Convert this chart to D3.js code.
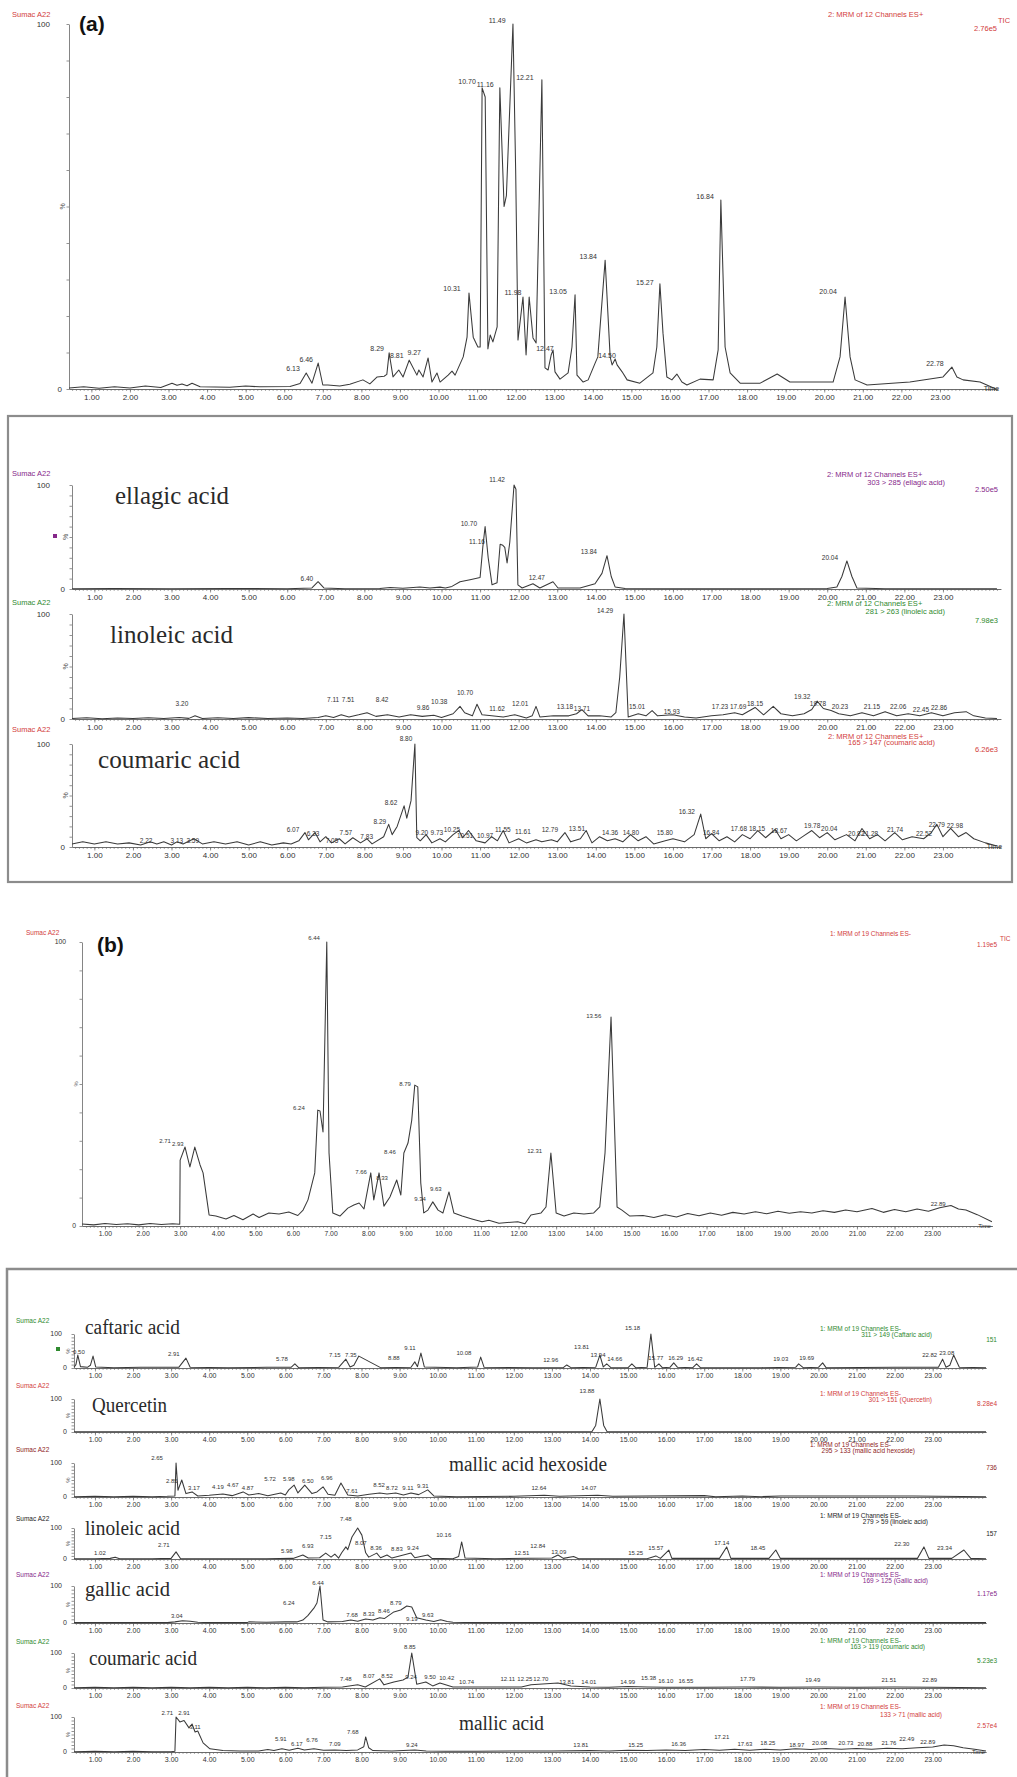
<!DOCTYPE html>
<html>
<head>
<meta charset="utf-8">
<script src="https://cdn.jsdelivr.net/npm/d3@7"></script>
<style>
  body { margin: 0; background: #fff; }
  svg { display: block; font-family: "Liberation Sans", Arial, sans-serif; }
</style>
</head>
<body>
<div id="chart"></div>
<script>
// ---- shared axis values ----
var timeTicks = d3.range(1, 24);
var pctTicks = d3.range(0, 101, 10);

// ---- (a) TIC, 2: MRM of 12 Channels ES+  [time, %] ----
var ticA = [[0.42,0.3],[0.8,0.6],[1.2,0.2],[1.6,0.6],[2.0,0.3],[2.4,0.8],[2.8,0.4],[3.09,1.6],[3.22,1.0],[3.35,1.4],[3.48,0.9],[3.61,1.6],[3.82,0.6],[4.59,0.5],[5.0,0.8],[5.37,0.6],[6.15,0.7],[6.41,1.5],[6.57,4.4],[6.72,1.6],[6.88,7.1],[7.0,1.1],[7.13,1.1],[7.44,0.8],[7.7,1.3],[8.04,2.5],[8.22,1.4],[8.41,3.3],[8.59,3.5],[8.66,4.0],[8.72,9.9],[8.82,3.3],[8.97,5.2],[9.08,3.3],[9.24,7.9],[9.44,3.8],[9.49,5.2],[9.60,3.3],[9.73,8.5],[9.83,1.9],[9.96,4.4],[10.04,1.9],[10.25,3.8],[10.35,4.9],[10.43,3.8],[10.64,8.8],[10.74,14.2],[10.79,26.3],[10.90,14.2],[11.02,11.5],[11.08,11.5],[11.13,82.5],[11.21,80],[11.28,11.0],[11.34,14.8],[11.41,12.9],[11.52,17.0],[11.59,82.5],[11.70,50],[11.76,53],[11.93,100],[12.00,60],[12.06,13.4],[12.19,25.2],[12.27,9.3],[12.35,25.2],[12.45,14.0],[12.53,12.6],[12.68,84.7],[12.76,5.8],[12.84,5.2],[12.92,9.3],[12.97,10.7],[13.02,4.7],[13.15,2.7],[13.36,4.4],[13.46,11.5],[13.54,25.8],[13.59,3.8],[13.75,1.9],[13.88,2.5],[14.06,7.1],[14.13,8.8],[14.32,35.3],[14.45,8.8],[14.50,6.6],[14.58,8.2],[14.63,6.6],[14.76,4.7],[14.89,2.5],[15.22,1.6],[15.56,4.4],[15.66,11.5],[15.74,28.8],[15.82,15.3],[15.92,3.3],[16.05,2.5],[16.18,4.1],[16.31,1.9],[16.44,1.1],[16.78,2.7],[17.12,2.5],[17.25,10.7],[17.32,51.8],[17.43,11.5],[17.56,4.4],[17.82,1.6],[18.34,1.6],[18.78,4.1],[19.11,1.9],[20.23,1.9],[20.41,8.8],[20.54,25.2],[20.67,8.8],[20.80,2.5],[21.11,1.1],[22.22,1.9],[23.08,3.3],[23.31,6.0],[23.44,3.3],[23.60,2.5],[24.04,1.9],[24.45,0]];
var ticALabels = [["6.13",6.23,5.5],["6.46",6.57,8.2],["8.29",8.41,11.2],["8.81",8.92,9.3],["9.27",9.37,9.9],["10.31",10.35,27.4],["10.70",10.74,84.1],["11.16",11.21,83.3],["11.49",11.52,101],["12.21",12.24,85.2],["11.98",11.93,26.3],["12.47",12.76,11.2],["13.05",13.10,26.8],["13.84",13.88,36.2],["14.50",14.37,9.3],["15.27",15.35,29.3],["16.84",16.91,52.6],["20.04",20.10,26.6],["22.78",22.87,7.1]];

// ---- (a) ellagic acid ----
var ellagicA = [[0.42,0.3],[1.5,0.5],[3,0.3],[4.5,0.5],[6.0,0.3],[6.64,1],[6.80,7],[6.95,1],[7.5,0.3],[8.4,0.5],[8.67,1.5],[9.0,0.8],[9.44,2],[9.7,1],[9.96,1.8],[10.1,1],[10.27,2.5],[10.48,7],[10.74,9],[11.00,11],[11.07,40],[11.13,60],[11.21,30],[11.31,4],[11.44,6],[11.52,43],[11.59,42],[11.64,40],[11.70,25],[11.77,45],[11.88,100],[11.93,96],[11.98,4],[12.09,1],[12.37,5],[12.55,1],[12.89,7],[13.02,1],[13.59,1],[13.98,5],[14.16,15],[14.29,32],[14.40,12],[14.50,2],[14.76,0.5],[16,0.3],[18,0.3],[20.0,0.5],[20.25,2],[20.38,12],[20.51,27],[20.64,12],[20.77,1],[21.5,0.3],[24.4,0.2]];
var ellagicALabels = [["6.40",6.51,9.6],["10.70",10.71,62.5],["11.16",10.92,45],["11.42",11.44,105],["12.47",12.47,10.6],["13.84",13.82,35.6],["20.04",20.07,30]];

// ---- (a) linoleic acid ----
var linoleicA = [[0.42,0.5],[0.8,1.2],[1.2,0.3],[1.6,1],[2.0,0.4],[2.4,1.2],[2.8,0.5],[3.2,1.5],[3.45,0.6],[3.61,3],[3.8,0.5],[4.2,1.2],[4.6,0.4],[5.0,1.3],[5.5,0.5],[6.0,1],[6.4,0.5],[6.8,1.5],[7.0,3],[7.2,1.5],[7.4,4],[7.6,2],[7.85,4],[8.07,6],[8.3,2.5],[8.6,4],[8.9,2],[9.2,4],[9.5,2.5],[9.8,3.5],[10.0,1.5],[10.3,5],[10.48,12],[10.6,6],[10.8,3],[10.92,14],[11.05,4],[11.3,3],[11.6,2],[11.9,4],[12.2,1],[12.35,3],[12.45,12],[12.55,2],[12.9,3],[13.3,3],[13.5,5],[13.64,9],[13.8,3],[14.1,3],[14.4,2],[14.52,6],[14.62,40],[14.73,100],[14.84,2],[15.1,5],[15.3,3],[15.46,8],[15.6,3],[16.0,4],[16.3,2],[16.6,1],[17.0,3],[17.3,4],[17.6,6],[17.8,4],[18.13,11],[18.35,4],[18.6,12],[18.8,5],[19.1,3],[19.4,5],[19.6,9],[19.74,17],[19.9,10],[20.1,8],[20.3,5],[20.6,3],[20.9,6],[21.2,3],[21.5,7],[21.8,3],[22.1,5],[22.4,3],[22.7,6],[23.0,3],[23.3,6],[23.6,7],[23.8,3],[24.1,1],[24.4,0.5]];
var linoleicALabels = [["3.20",3.27,15],["7.11",7.19,18],["7.51",7.58,18],["8.42",8.46,18],["9.86",9.52,11],["10.38",9.94,16],["10.70",10.61,25],["11.62",11.44,10],["12.01",12.04,15],["13.18",13.20,11.4],["13.71",13.64,9.5],["14.29",14.24,103],["15.01",15.07,11.4],["15.93",15.97,6.7],["17.23",17.22,11.4],["17.69",17.69,11.4],["18.15",18.13,15],["19.32",19.35,21],["19.78",19.76,15],["20.23",20.33,11.4],["21.15",21.16,11.4],["22.06",21.84,12],["22.45",22.43,8.6],["22.86",22.90,10.5]];

// ---- (a) coumaric acid ----
var coumaricA = [[0.42,3],[0.7,5],[1.0,3],[1.3,5],[1.6,3],[1.9,4],[2.2,2],[2.45,5],[2.62,3],[2.8,5],[3.0,2],[3.14,5],[3.3,3],[3.58,8],[3.8,3],[4.1,5],[4.4,3],[4.7,5],[5.0,2],[5.3,5],[5.6,2],[5.9,4],[6.1,3],[6.3,6],[6.46,14],[6.55,7],[6.72,14],[6.85,5],[7.0,10],[7.15,4],[7.35,8],[7.5,3],[7.7,9],[7.9,4],[8.07,8],[8.2,3],[8.5,10],[8.63,22],[8.72,12],[8.85,20],[9.03,40],[9.10,28],[9.21,45],[9.31,100],[9.36,9],[9.45,6],[9.6,12],[9.75,4],[9.96,8],[10.1,5],[10.3,12],[10.45,16],[10.55,9],[10.7,16],[10.9,6],[11.13,4],[11.3,10],[11.45,6],[11.6,16],[11.75,4],[12.0,8],[12.2,4],[12.45,7],[12.6,5],[12.85,7],[13.0,5],[13.2,14],[13.35,5],[13.6,8],[13.75,16],[13.9,4],[14.1,10],[14.3,6],[14.5,8],[14.7,5],[14.9,12],[15.1,6],[15.3,10],[15.5,3],[15.8,6],[16.0,8],[16.3,5],[16.55,12],[16.72,32],[16.85,8],[17.0,13],[17.2,6],[17.4,10],[17.6,5],[17.8,12],[18.0,8],[18.2,16],[18.4,9],[18.65,17],[18.8,8],[19.0,12],[19.2,6],[19.4,11],[19.6,16],[19.8,9],[20.0,14],[20.2,7],[20.5,12],[20.72,6],[20.9,18],[21.1,8],[21.3,12],[21.5,6],[21.75,14],[21.95,7],[22.2,10],[22.5,8],[22.7,14],[22.84,22],[23.0,10],[23.2,18],[23.4,10],[23.6,14],[23.8,8],[24.1,4],[24.4,1]];
var coumaricALabels = [["2.22",2.34,6],["3.13",3.14,6],["3.59",3.55,6],["6.07",6.15,17],["6.33",6.67,13],["7.05",7.16,6],["7.57",7.52,14],["7.83",8.06,10],["8.29",8.40,25],["8.62",8.69,43],["8.80",9.08,105],["9.20",9.49,14],["9.73",9.88,14],["10.25",10.27,17],["10.51",10.61,11],["10.97",11.13,11],["11.55",11.59,17],["11.61",12.11,15],["12.79",12.81,17],["13.51",13.51,18],["14.36",14.37,14],["14.80",14.91,14],["15.80",15.79,14],["16.32",16.36,34],["16.84",16.99,14],["17.68",17.71,18],["18.15",18.18,18],["18.67",18.75,16],["19.78",19.61,21],["20.04",20.05,18],["20.82",20.75,13],["21.28",21.11,13],["21.74",21.76,17],["22.52",22.51,13],["22.79",22.84,22],["22.98",23.31,21]];

// ---- (b) TIC, 1: MRM of 19 Channels ES- ----
var ticB = [[0.39,0.7],[0.7,0.4],[1.0,0.9],[1.3,0.5],[1.6,0.8],[1.9,0.4],[2.2,0.9],[2.5,0.5],[2.8,0.8],[2.99,0.6],[3.0,23.2],[3.13,27.8],[3.26,20.8],[3.39,27.8],[3.53,21.5],[3.61,18.7],[3.77,3.9],[3.95,3.5],[4.22,2.5],[4.43,3.7],[4.67,2.2],[4.94,4.2],[5.10,3.0],[5.36,4.6],[5.63,4.2],[5.89,4.9],[6.13,3.7],[6.27,5.6],[6.40,9.2],[6.58,18.7],[6.66,40.8],[6.72,40.5],[6.80,33.1],[6.90,100],[6.96,25.7],[7.06,4.6],[7.25,3.5],[7.46,6.3],[7.62,7.4],[7.76,8.1],[7.89,6.0],[8.07,18.7],[8.15,9.2],[8.29,18.7],[8.42,7.0],[8.58,10.2],[8.76,16.2],[8.87,10.9],[8.95,25.7],[9.06,29.2],[9.16,37.3],[9.24,49.6],[9.32,49.0],[9.40,15.1],[9.48,4.6],[9.59,5.6],[9.72,8.5],[9.86,5.6],[9.99,4.6],[10.15,12.0],[10.28,4.6],[10.50,3.5],[10.76,2.5],[11.03,1.5],[11.21,2.0],[11.48,1.0],[11.98,1.5],[12.17,0.8],[12.33,3.9],[12.60,4.6],[12.73,6.7],[12.86,25.7],[13.00,4.6],[13.21,3.5],[13.47,4.6],[13.74,4.2],[14.00,4.6],[14.16,6.7],[14.30,25.7],[14.46,73.6],[14.62,6.7],[14.75,5.6],[14.96,3.5],[15.31,3.7],[15.6,3.0],[15.9,4.0],[16.2,3.2],[16.5,4.4],[16.8,3.6],[17.1,4.6],[17.4,3.8],[17.7,4.8],[18.0,4.2],[18.3,5.0],[18.6,4.3],[18.9,5.2],[19.2,4.5],[19.5,5.0],[19.8,4.6],[20.1,5.4],[20.4,4.8],[20.7,5.6],[21.0,5.0],[21.4,6.2],[21.7,4.8],[22.0,5.8],[22.3,5.0],[22.6,6.0],[22.9,5.2],[23.2,6.4],[23.5,7.2],[23.7,6.0],[23.9,5.6],[24.2,4.0],[24.59,1.5]];
var ticBLabels = [["2.71",2.60,30],["2.93",2.94,29],["6.24",6.16,41.5],["6.44",6.56,101.5],["7.66",7.81,19],["8.33",8.37,17],["8.46",8.58,26],["8.79",8.98,50],["9.34",9.38,9.5],["9.63",9.80,13],["12.31",12.43,26.4],["13.56",14.00,74],["22.89",23.16,7.7]];

// ---- (b) MRM channels ----
var caftaricB = [[0.45,2],[0.50,10],[0.55,38],[0.62,4],[0.8,2],[0.88,8],[0.95,35],[1.02,3],[1.5,1],[2.2,2],[3.2,2],[3.39,29],[3.5,2],[4.5,1],[5.5,2],[6.15,2],[6.25,12],[6.35,1],[7.4,2],[7.59,26],[7.7,3],[7.8,8],[7.93,35],[8.5,1],[9.3,2],[9.40,18],[9.47,4],[9.56,44],[9.65,3],[10.5,1],[11.05,3],[11.13,32],[11.22,2],[12.5,1],[13.3,1],[13.39,9],[13.5,1],[14.15,2],[14.26,38],[14.35,3],[14.44,12],[14.55,1],[15.0,1],[15.10,12],[15.2,1],[15.5,2],[15.60,100],[15.7,2],[15.81,12],[15.9,1],[16.1,2],[16.20,15],[16.3,2],[16.7,1],[16.80,12],[16.9,1],[18.5,1],[19.4,2],[19.48,12],[19.6,1],[20.0,2],[20.11,15],[20.2,1],[22.0,2],[23.15,2],[23.26,26],[23.35,2],[23.45,8],[23.55,38],[23.7,2],[24.4,1]];
var caftaricBLabels = [["0.50",0.58,47],["2.91",3.07,41],["5.78",5.91,26],["7.15",7.30,38],["7.35",7.72,38],["8.88",8.85,29],["9.11",9.27,59],["10.08",10.69,44],["12.96",12.97,24],["13.81",13.78,62],["13.94",14.21,38],["14.66",14.65,26],["15.18",15.12,118],["15.77",15.73,29],["16.29",16.25,29],["16.42",16.76,26],["19.03",19.01,26],["19.69",19.69,29],["22.82",22.92,38],["23.08",23.37,44]];

var quercetinB = [[0.45,0.5],[3,1],[6,0.5],[9,1],[12,0.5],[13.5,1],[14.05,1],[14.15,20],[14.26,100],[14.36,20],[14.45,1],[16,0.5],[19,1],[22,0.5],[24.4,0.5]];
var quercetinBLabels = [["13.88",13.92,124]];

var hexosideB = [[0.45,1],[1.0,2],[1.5,1],[2.0,2],[2.5,1],[2.9,2],[3.10,3],[3.13,100],[3.18,20],[3.28,50],[3.39,10],[3.55,15],[3.7,3],[4.0,5],[4.36,9],[4.6,4],[4.89,15],[5.04,6],[5.3,10],[5.54,4],[5.88,12],[6.0,6],[6.09,21],[6.23,35],[6.33,12],[6.51,35],[6.70,10],[6.83,15],[6.99,30],[7.12,8],[7.3,5],[7.46,41],[7.64,6],[7.9,3],[8.2,8],[8.48,12],[8.67,9],[8.9,12],[9.1,6],[9.3,12],[9.5,7],[9.74,21],[9.9,3],[10.5,1],[12.0,2],[12.8,5],[13.2,2],[14.2,5],[14.6,2],[17.0,4],[17.3,1],[18.0,3],[18.5,1],[19.0,3],[21.5,3],[22.5,3],[24.4,1]];
var hexosideBLabels = [["2.65",2.63,115],["2.85",3.02,47],["3.17",3.60,26],["4.19",4.23,29],["4.67",4.62,35],["4.87",5.01,26],["5.72",5.60,53],["5.98",6.09,53],["6.50",6.59,47],["6.96",7.09,56],["7.61",7.75,18],["8.52",8.46,35],["8.72",8.80,26],["9.11",9.22,26],["9.31",9.61,32],["12.64",12.66,26],["14.07",13.97,26]];

var linoleicB = [[0.45,1],[1.0,1],[1.4,2],[1.53,6],[1.65,1],[2.5,1],[3.0,2],[3.13,23],[3.25,1],[4.0,1],[5.5,1],[6.2,2],[6.46,13],[6.6,3],[6.9,4],[7.06,19],[7.2,6],[7.30,16],[7.4,3],[7.48,20],[7.59,39],[7.64,30],[7.75,71],[7.90,100],[8.01,77],[8.11,20],[8.19,6],[8.40,19],[8.5,4],[8.67,13],[8.8,3],[9.3,19],[9.4,4],[9.74,13],[9.85,2],[10.4,1],[10.55,8],[10.63,55],[10.72,3],[11.5,1],[13.0,3],[13.16,13],[13.3,2],[13.57,8],[13.7,1],[15.5,1],[15.73,10],[15.85,2],[16.07,29],[16.15,2],[17.4,2],[17.59,39],[17.7,2],[18.7,2],[18.88,29],[19.0,2],[22.6,2],[22.77,39],[22.9,2],[23.5,2],[23.82,29],[24.0,2],[24.4,1]];
var linoleicBLabels = [["1.02",1.13,19],["2.71",2.81,45],["5.98",6.04,26],["6.93",6.59,42],["7.15",7.06,71],["7.48",7.59,129],["8.07",7.98,52],["8.36",8.38,35],["8.83",8.93,32],["9.24",9.35,35],["10.16",10.16,77],["12.51",12.21,19],["12.84",12.63,42],["13.09",13.18,23],["15.25",15.20,19],["15.57",15.73,35],["17.14",17.46,52],["18.45",18.41,35],["22.30",22.19,48],["23.34",23.31,35]];

var gallicB = [[0.45,1],[1,1],[2,1],[2.9,1],[3.1,3],[3.3,6],[3.5,5],[3.7,2],[4.0,1],[5.0,1],[5.04,3],[5.5,2],[6.0,3],[6.3,3],[6.46,8],[6.59,20],[6.75,40],[6.83,54],[6.91,100],[6.99,8],[7.12,3],[7.5,4],[7.72,8],[7.9,5],[8.11,11],[8.3,8],[8.48,14],[8.6,12],[8.85,30],[9.03,35],[9.19,46],[9.32,43],[9.45,14],[9.69,8],[9.9,4],[10.08,9],[10.25,4],[10.40,2],[11,1],[24.4,1]];
var gallicBLabels = [["6.44",6.86,108],["3.04",3.15,19],["6.24",6.09,54],["7.68",7.75,22],["8.33",8.19,24],["8.46",8.59,32],["8.79",8.90,54],["9.19",9.32,11],["9.63",9.74,22]];

var coumaricB = [[0.45,1],[1,2],[1.5,1],[2,2],[2.5,1],[3,2],[3.5,1],[4,2],[4.5,1],[5,2],[5.5,1],[6,2],[6.5,1],[7,2],[7.5,3],[7.9,9],[8.1,3],[8.48,26],[8.59,9],[8.85,17],[9.09,23],[9.22,31],[9.32,100],[9.45,11],[9.69,17],[9.87,6],[10.06,14],[10.4,3],[10.9,3],[12.2,3],[12.45,9],[13.16,14],[13.5,6],[14,3],[14.5,2],[15,4],[15.5,3],[16,2],[17,2],[18,3],[19,2],[20,3],[21,2],[22,3],[23,2],[24.4,1]];
var coumaricBLabels = [["7.48",7.59,26],["8.07",8.19,34],["8.52",8.67,34],["8.85",9.27,117],["9.24",9.30,31],["9.50",9.80,31],["10.42",10.24,29],["10.74",10.76,17],["12.11",11.84,26],["12.25",12.29,26],["12.70",12.71,26],["13.81",13.39,17],["14.01",13.97,17],["14.99",14.99,17],["15.38",15.54,29],["16.10",15.99,20],["16.55",16.52,20],["17.79",18.14,26],["19.49",19.85,23],["21.51",21.85,23],["22.89",22.92,23]];

var mallicB = [[0.45,1],[1,2],[1.5,1],[2,2],[2.5,1],[3.0,1],[3.10,2],[3.13,100],[3.23,86],[3.34,90],[3.47,69],[3.55,80],[3.63,57],[3.70,60],[3.84,26],[4.02,9],[4.36,4],[4.8,3],[5.3,3],[5.54,7],[5.7,4],[5.91,9],[6.1,5],[6.33,11],[6.5,6],[6.75,9],[7.0,5],[7.3,6],[7.6,4],[7.9,6],[8.06,15],[8.11,43],[8.19,12],[8.3,4],[8.8,3],[9.4,6],[9.7,3],[10.2,2],[11,2],[12,3],[13,3],[14,4],[14.5,3],[15,5],[15.5,4],[16,6],[16.5,4],[17,7],[17.4,5],[17.8,8],[18.2,5],[18.6,8],[19.0,6],[19.4,9],[19.8,7],[20.2,10],[20.6,8],[21.0,10],[21.4,8],[21.8,11],[22.2,9],[22.6,12],[23.0,14],[23.3,20],[23.55,18],[23.8,12],[24.1,8],[24.4,3]];
var mallicBLabels = [["2.71",2.90,111],["2.91",3.34,111],["3.11",3.63,71],["5.91",5.88,37],["6.17",6.30,23],["6.76",6.70,34],["7.09",7.30,23],["7.68",7.77,57],["9.24",9.32,20],["13.81",13.76,20],["15.25",15.20,20],["16.36",16.33,23],["17.21",17.46,43],["17.63",18.07,23],["18.25",18.67,26],["18.97",19.43,20],["20.08",20.03,26],["20.73",20.72,26],["20.88",21.22,23],["21.76",21.85,26],["22.49",22.32,37],["22.89",22.87,29]];

// ---- colours ----
var RED = '#d23c3c', PURPLE = '#86288a', GREEN = '#2f8a2f', DKRED = '#8e2424', BLACK = '#222';

// ---- panel layout ----
var panels = [
  { trace: ticA, labels: ticALabels, color: RED, t0: 0.42, t1: 24.5, x0: 69, x1: 997.8, yb: 389, yt: 24,
    sx: 12, sy: 17, hx: 50, zx: 62, tfs: 8, lfs: 7, hfs: 7.5, time: true,
    head: [['2: MRM of 12 Channels ES+', 828, 17, 'start'], ['TIC', 998, 23, 'start'], ['2.76e5', 997, 31, 'end']] },
  { trace: ellagicA, labels: ellagicALabels, color: PURPLE, t0: 0.42, t1: 24.5, x0: 72, x1: 1000.8, yb: 589, yt: 485,
    sx: 12, sy: 476, hx: 50, zx: 65, tfs: 8, lfs: 6.5, hfs: 7.5, mark: [55, 536],
    name: ['ellagic acid', 115, 504, 114, 25],
    head: [['2: MRM of 12 Channels ES+', 827, 477, 'start'], ['303 > 285 (ellagic acid)', 945, 485, 'end'], ['2.50e5', 998, 492, 'end']] },
  { trace: linoleicA, labels: linoleicALabels, color: GREEN, t0: 0.42, t1: 24.5, x0: 72, x1: 1000.8, yb: 719, yt: 614,
    sx: 12, sy: 605, hx: 50, zx: 65, tfs: 8, lfs: 6.5, hfs: 7.5,
    name: ['linoleic acid', 110, 643, 123, 25],
    head: [['2: MRM of 12 Channels ES+', 827, 606, 'start'], ['281 > 263 (linoleic acid)', 945, 614, 'end'], ['7.98e3', 998, 623, 'end']] },
  { trace: coumaricA, labels: coumaricALabels, color: RED, t0: 0.42, t1: 24.5, x0: 72, x1: 1000.8, yb: 847, yt: 744,
    sx: 12, sy: 732, hx: 50, zx: 65, tfs: 8, lfs: 6.5, hfs: 7.5, time: true,
    name: ['coumaric acid', 98, 768, 142, 25],
    head: [['2: MRM of 12 Channels ES+', 828, 739, 'start'], ['165 > 147 (coumaric acid)', 935, 745, 'end'], ['6.26e3', 998, 752, 'end']] },
  { trace: ticB, labels: ticBLabels, color: RED, t0: 0.39, t1: 24.6, x0: 82, x1: 992.3, yb: 1226, yt: 942,
    sx: 26, sy: 935, hx: 66, zx: 76, tfs: 6.8, lfs: 6, hfs: 6.5, time: true,
    head: [['1: MRM of 19 Channels ES-', 830, 936, 'start'], ['TIC', 1000, 941, 'start'], ['1.19e5', 997, 947, 'end']] },
  { trace: caftaricB, labels: caftaricBLabels, color: GREEN, t0: 0.45, t1: 24.4, x0: 74, x1: 986, yb: 1368, yt: 1334,
    sx: 16, sy: 1323, hx: 62, zx: 67, tfs: 7, lfs: 6, hfs: 6.5, mark: [58, 1349],
    name: ['caftaric acid', 85, 1334, 95, 20],
    head: [['1: MRM of 19 Channels ES-', 820, 1331, 'start'], ['311 > 149 (Caftaric acid)', 932, 1337, 'end'], ['151', 997, 1342, 'end']] },
  { trace: quercetinB, labels: quercetinBLabels, color: RED, t0: 0.45, t1: 24.4, x0: 74, x1: 986, yb: 1432, yt: 1399,
    sx: 16, sy: 1388, hx: 62, zx: 67, tfs: 7, lfs: 6, hfs: 6.5,
    name: ['Quercetin', 92, 1412, 75, 20],
    head: [['1: MRM of 19 Channels ES-', 820, 1396, 'start'], ['301 > 151 (Quercetin)', 932, 1402, 'end'], ['8.28e4', 997, 1406, 'end']] },
  { trace: hexosideB, labels: hexosideBLabels, color: DKRED, t0: 0.45, t1: 24.4, x0: 74, x1: 986, yb: 1497, yt: 1463,
    sx: 16, sy: 1452, hx: 62, zx: 67, tfs: 7, lfs: 6, hfs: 6.5,
    name: ['mallic acid hexoside', 449, 1471, 158, 20],
    head: [['1: MRM of 19 Channels ES-', 810, 1447, 'start'], ['295 > 133 (mallic acid hexoside)', 915, 1453, 'end'], ['736', 997, 1470, 'end']] },
  { trace: linoleicB, labels: linoleicBLabels, color: BLACK, t0: 0.45, t1: 24.4, x0: 74, x1: 986, yb: 1559, yt: 1528,
    sx: 16, sy: 1521, hx: 62, zx: 67, tfs: 7, lfs: 6, hfs: 6.5,
    name: ['linoleic acid', 85, 1535, 95, 20],
    head: [['1: MRM of 19 Channels ES-', 820, 1518, 'start'], ['279 > 59 (linoleic acid)', 928, 1524, 'end'], ['157', 997, 1536, 'end']] },
  { trace: gallicB, labels: gallicBLabels, color: PURPLE, t0: 0.45, t1: 24.4, x0: 74, x1: 986, yb: 1623, yt: 1586,
    sx: 16, sy: 1577, hx: 62, zx: 67, tfs: 7, lfs: 6, hfs: 6.5,
    name: ['gallic acid', 85, 1596, 85, 20],
    head: [['1: MRM of 19 Channels ES-', 820, 1577, 'start'], ['169 > 125 (Gallic acid)', 928, 1583, 'end'], ['1.17e5', 997, 1596, 'end']] },
  { trace: coumaricB, labels: coumaricBLabels, color: GREEN, t0: 0.45, t1: 24.4, x0: 74, x1: 986, yb: 1688, yt: 1653,
    sx: 16, sy: 1644, hx: 62, zx: 67, tfs: 7, lfs: 6, hfs: 6.5,
    name: ['coumaric acid', 89, 1665, 108, 20],
    head: [['1: MRM of 19 Channels ES-', 820, 1643, 'start'], ['163 > 119 (coumaric acid)', 925, 1649, 'end'], ['5.23e3', 997, 1663, 'end']] },
  { trace: mallicB, labels: mallicBLabels, color: RED, t0: 0.45, t1: 24.4, x0: 74, x1: 986, yb: 1752, yt: 1717,
    sx: 16, sy: 1708, hx: 62, zx: 67, tfs: 7, lfs: 6, hfs: 6.5, time: true,
    name: ['mallic acid', 459, 1730, 85, 20],
    head: [['1: MRM of 19 Channels ES-', 820, 1709, 'start'], ['133 > 71 (mallic acid)', 942, 1717, 'end'], ['2.57e4', 997, 1728, 'end']] }
];

var svg = d3.select('#chart').append('svg')
    .attr('width', 1017)
    .attr('height', 1777);

svg.append('rect').attr('width', 1017).attr('height', 1777).attr('fill', '#fff');

// frames round the MRM groups
svg.append('rect')
    .attr('x', 8).attr('y', 416).attr('width', 1004).attr('height', 466)
    .attr('fill', 'none').attr('stroke', '#8c8c8c').attr('stroke-width', 2.2);
svg.append('path')
    .attr('d', 'M7,1780V1269H1020')
    .attr('fill', 'none').attr('stroke', '#8c8c8c').attr('stroke-width', 2.5);

// panel letters
svg.append('text').attr('x', 79).attr('y', 31).text('(a)')
    .style('font-size', '21px').style('font-weight', 'bold').attr('fill', '#111');
svg.append('text').attr('x', 97).attr('y', 952).text('(b)')
    .style('font-size', '21px').style('font-weight', 'bold').attr('fill', '#111');

function drawPanel(p) {
    var x = d3.scaleLinear().domain([p.t0, p.t1]).range([p.x0, p.x1]),
        y = d3.scaleLinear().domain([0, 100]).range([p.yb, p.yt]);
    var g = svg.append('g').attr('class', 'panel');

    // left-hand labels
    g.append('text').attr('x', p.sx).attr('y', p.sy).text('Sumac A22')
        .attr('fill', p.color).style('font-size', p.hfs + 'px');
    g.append('text').attr('x', p.hx).attr('y', y(100)).attr('dy', '0.35em')
        .attr('text-anchor', 'end').text('100').attr('fill', '#333').style('font-size', p.tfs + 'px');
    g.append('text').attr('x', p.zx).attr('y', y(0)).attr('dy', '0.35em')
        .attr('text-anchor', 'end').text('0').attr('fill', '#333').style('font-size', p.tfs + 'px');
    g.append('text').attr('transform', 'translate(' + (p.x0 - 4) + ',' + y(50) + ') rotate(-90)')
        .attr('text-anchor', 'middle').text('%').attr('fill', '#555').style('font-size', (p.tfs - 1) + 'px');
    if (p.mark) {
        g.append('rect').attr('x', p.mark[0] - 2).attr('y', p.mark[1] - 2)
            .attr('width', 4).attr('height', 4).attr('fill', p.color);
    }

    // axes
    g.append('g').attr('transform', 'translate(' + p.x0 + ',0)')
        .call(d3.axisLeft(y).tickValues(pctTicks).tickSize(2.5).tickFormat('').tickSizeOuter(0));
    g.append('g').attr('transform', 'translate(0,' + p.yb + ')')
        .call(d3.axisBottom(x).tickValues(d3.range(0.5, p.t1, 0.1)).tickSize(1.8).tickFormat('').tickSizeOuter(0));
    var xa = g.append('g').attr('transform', 'translate(0,' + p.yb + ')')
        .call(d3.axisBottom(x).tickValues(timeTicks).tickSize(3.5).tickPadding(2)
            .tickFormat(d3.format('.2f')).tickSizeOuter(0));
    xa.selectAll('text').attr('fill', '#333').style('font-size', p.tfs + 'px');
    g.selectAll('.domain').attr('stroke', '#666').attr('stroke-width', 0.8);
    g.selectAll('.tick line').attr('stroke', '#666').attr('stroke-width', 0.7);
    g.selectAll('g').attr('font-family', null);

    if (p.time) {
        g.append('text').attr('x', p.x1 - 14).attr('y', p.yb + 2).text('Time')
            .attr('fill', '#333').style('font-size', (p.tfs - 1) + 'px');
    }

    // chromatogram trace
    g.append('path').datum(p.trace)
        .attr('d', d3.line().x(function (d) { return x(d[0]); }).y(function (d) { return y(d[1]); }))
        .attr('fill', 'none').attr('stroke', '#3a3a3a').attr('stroke-width', 1.05)
        .attr('stroke-linejoin', 'round');

    // retention-time labels
    g.selectAll('.rt').data(p.labels).enter().append('text')
        .attr('class', 'rt')
        .attr('x', function (d) { return x(d[1]); })
        .attr('y', function (d) { return y(d[2]); })
        .attr('dy', '0.35em')
        .attr('text-anchor', 'middle')
        .attr('fill', '#333')
        .style('font-size', p.lfs + 'px')
        .text(function (d) { return d[0]; });

    // channel description, top right
    p.head.forEach(function (h) {
        g.append('text').attr('x', h[1]).attr('y', h[2]).attr('text-anchor', h[3])
            .attr('fill', p.color).style('font-size', p.hfs + 'px').text(h[0]);
    });

    // compound name
    if (p.name) {
        g.append('text').attr('x', p.name[1]).attr('y', p.name[2])
            .attr('textLength', p.name[3]).attr('lengthAdjust', 'spacingAndGlyphs')
            .style('font-family', '"Liberation Serif", "Times New Roman", serif')
            .style('font-size', p.name[4] + 'px')
            .attr('fill', '#2a2a2a')
            .text(p.name[0]);
    }
}

panels.forEach(drawPanel);
</script>
</body>
</html>
